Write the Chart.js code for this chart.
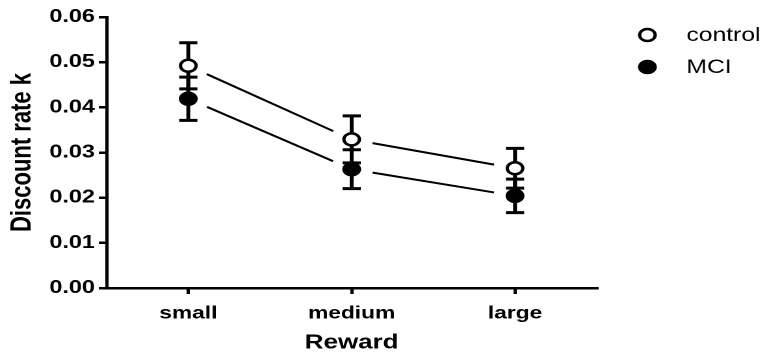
<!DOCTYPE html>
<html>
<head>
<meta charset="utf-8">
<script src="https://cdn.jsdelivr.net/npm/chart.js@4/dist/chart.umd.min.js"></script>
<style>
  html, body { margin: 0; padding: 0; background: #fff; }
  #wrap { width: 766px; height: 355px; overflow: hidden; }
  /* o gráfico original está esticado na horizontal */
  #myChart { width: 589px; height: 355px; transform: scale(1.3, 1); transform-origin: 0 0; }
</style>
</head>
<body>
<div id="wrap"><canvas id="myChart" width="589" height="355"></canvas></div>
<script>
// Dados
const categories = ['small', 'medium', 'large'];
const controlMean = [0.0492, 0.0329, 0.0265];
const controlSem = [0.0051, 0.0052, 0.0044];
const mciMean = [0.0419, 0.0263, 0.0204];
const mciSem = [0.0048, 0.0043, 0.0037];
const yTicks = [0.00, 0.01, 0.02, 0.03, 0.04, 0.05, 0.06];

const FONT = '"Liberation Sans", Arial, sans-serif';

// linhas entre os pontos, com um espaço em volta dos marcadores
const linhas = {
    id: 'linhas',
    beforeDatasetsDraw(chart) {
        const ctx = chart.ctx, xs = chart.scales.x, ys = chart.scales.y;
        const gap = 16.5;
        ctx.save();
        ctx.strokeStyle = '#000';
        ctx.lineWidth = 2;
        chart.data.datasets.forEach(ds => {
            for (let j = 0; j < ds.data.length - 1; j++) {
                const x1 = xs.getPixelForValue(j), y1 = ys.getPixelForValue(ds.data[j]);
                const x2 = xs.getPixelForValue(j + 1), y2 = ys.getPixelForValue(ds.data[j + 1]);
                const len = Math.hypot(x2 - x1, y2 - y1);
                const ux = (x2 - x1) / len, uy = (y2 - y1) / len;
                ctx.beginPath();
                ctx.moveTo(x1 + ux * gap, y1 + uy * gap);
                ctx.lineTo(x2 - ux * gap, y2 - uy * gap);
                ctx.stroke();
            }
        });
        ctx.restore();
    }
};

// barras de erro (SEM)
const barrasErro = {
    id: 'barrasErro',
    beforeDatasetsDraw(chart) {
        const ctx = chart.ctx, xs = chart.scales.x, ys = chart.scales.y;
        const cap = 7;
        ctx.save();
        ctx.strokeStyle = '#000';
        ctx.lineWidth = 3;
        chart.data.datasets.forEach(ds => {
            ds.sem.forEach((e, j) => {
                const px = xs.getPixelForValue(j);
                const top = ys.getPixelForValue(ds.data[j] + e);
                const bot = ys.getPixelForValue(ds.data[j] - e);
                ctx.beginPath();
                ctx.moveTo(px, top); ctx.lineTo(px, bot);
                ctx.moveTo(px - cap, top); ctx.lineTo(px + cap, top);
                ctx.moveTo(px - cap, bot); ctx.lineTo(px + cap, bot);
                ctx.stroke();
            });
        });
        ctx.restore();
    }
};

// legenda desenhada à direita do gráfico
const legenda = {
    id: 'legenda',
    afterDraw(chart) {
        const ctx = chart.ctx;
        const x0 = chart.chartArea.right + 39;
        ctx.save();
        chart.data.datasets.forEach((ds, i) => {
            const y = 35 + i * 32;
            ctx.beginPath();
            ctx.arc(x0, y, 6, 0, Math.PI * 2);
            ctx.fillStyle = ds.backgroundColor;
            ctx.fill();
            ctx.lineWidth = 2.5;
            ctx.strokeStyle = '#000';
            ctx.stroke();
            ctx.fillStyle = '#000';
            ctx.font = '19px ' + FONT;
            ctx.textAlign = 'left';
            ctx.textBaseline = 'middle';
            ctx.fillText(ds.label, x0 + 30, y + 1);
        });
        ctx.restore();
    }
};

document.addEventListener('DOMContentLoaded', function () {
    const data = {
        labels: categories,
        datasets: [{
            label: 'control',
            data: controlMean,
            sem: controlSem,
            backgroundColor: '#fff',
            borderColor: '#000'
        }, {
            label: 'MCI',
            data: mciMean,
            sem: mciSem,
            backgroundColor: '#000',
            borderColor: '#000'
        }]
    };

    const eixo = {
        display: true,
        drawOnChartArea: false,
        drawTicks: true,
        tickLength: 6,
        color: '#000',
        lineWidth: 2.5
    };

    const config = {
        type: 'line',
        data: data,
        options: {
            responsive: false,
            devicePixelRatio: 2,
            animation: false,
            showLine: false,
            layout: { padding: { top: 17, right: 130, left: 4, bottom: 0 } },
            elements: { point: { radius: 6, borderWidth: 2.5, hoverRadius: 6 } },
            plugins: { legend: { display: false }, tooltip: { enabled: false } },
            scales: {
                x: {
                    type: 'category',
                    offset: true,
                    grid: eixo,
                    border: { display: true, color: '#000', width: 2.5 },
                    ticks: { color: '#000', font: { family: FONT, size: 17.5, weight: 'bold' }, padding: 9 },
                    title: { display: true, text: 'Reward', color: '#000', font: { family: FONT, size: 20, weight: 'bold' }, padding: 0 },
                    afterFit(scale) { scale.height = 67; }
                },
                y: {
                    min: 0,
                    max: 0.06,
                    afterBuildTicks(scale) { scale.ticks = yTicks.map(v => ({ value: v })); },
                    grid: eixo,
                    border: { display: true, color: '#000', width: 2.5 },
                    ticks: {
                        color: '#000',
                        font: { family: FONT, size: 18, weight: 'bold' },
                        padding: 3,
                        callback: v => v.toFixed(2)
                    },
                    title: { display: true, text: 'Discount rate k', color: '#000', font: { family: FONT, size: 22, weight: 'bold' }, padding: 0 },
                    afterFit(scale) { scale.width = 78; }
                }
            }
        },
        plugins: [linhas, barrasErro, legenda]
    };

    var ctx = document.getElementById('myChart').getContext('2d');
    new Chart(ctx, config);
});
</script>
</body>
</html>
